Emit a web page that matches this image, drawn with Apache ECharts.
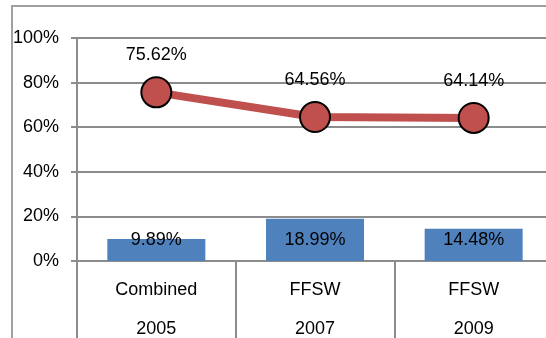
<!DOCTYPE html>
<html>
<head>
<meta charset="utf-8">
<script src="https://cdn.jsdelivr.net/npm/echarts@6/dist/echarts.min.js"></script>
<style>
  html, body { margin: 0; padding: 0; background: #fff; overflow: hidden; }
  #chart { width: 546px; height: 338px; }
</style>
</head>
<body>
<div id="chart"></div>
<script>
// Survey groups and years
const groups = ['Combined', 'FFSW', 'FFSW'];
const years = ['2005', '2007', '2009'];
// Percentages per survey
const barValues = [9.89, 18.99, 14.48];
const lineValues = [75.62, 64.56, 64.14];
const yTicks = [0, 20, 40, 60, 80, 100];

const FONT = '"Liberation Sans", Arial, sans-serif';
const FONT_SIZE = 18;
const GRID_GRAY = '#8c8c8c';

const categories = groups.map((g, i) => g + '\n' + years[i]);

const chart = echarts.init(document.getElementById('chart'), null, { renderer: 'canvas' });
chart.setOption({
  animation: false,
  backgroundColor: '#ffffff',
  // the last category runs a little past the right edge
  grid: { left: 77, right: -7, top: 38, bottom: 77, outerBoundsMode: 'none', containLabel: false },
  graphic: [{
    type: 'rect',
    shape: { x: 12, y: 6, width: 600, height: 400 },
    style: { fill: 'none', stroke: '#a0a0a0', lineWidth: 2 },
    silent: true
  }],
  xAxis: {
    type: 'category',
    data: categories,
    boundaryGap: true,
    axisLine: { show: true, lineStyle: { color: GRID_GRAY, width: 2 } },
    axisTick: { show: true, length: 80, lineStyle: { color: GRID_GRAY, width: 2 } },
    axisLabel: {
      color: '#000',
      fontFamily: FONT,
      fontSize: FONT_SIZE,
      lineHeight: 39,
      margin: 10
    }
  },
  yAxis: {
    type: 'value',
    min: yTicks[0],
    max: yTicks[yTicks.length - 1],
    interval: 20,
    axisLine: { show: true, lineStyle: { color: GRID_GRAY, width: 2 } },
    axisTick: { show: true, length: 6, lineStyle: { color: GRID_GRAY, width: 2 } },
    splitLine: { show: true, lineStyle: { color: GRID_GRAY, width: 2 } },
    axisLabel: {
      color: '#000',
      fontFamily: FONT,
      fontSize: FONT_SIZE,
      margin: 18,
      formatter: '{value}%'
    }
  },
  series: [
    {
      type: 'bar',
      data: barValues,
      barWidth: 98,
      itemStyle: { color: '#4f81bd' },
      label: {
        show: true,
        position: 'insideBottom',
        distance: 12,
        color: '#000',
        fontFamily: FONT,
        fontSize: FONT_SIZE,
        formatter: p => p.value.toFixed(2) + '%'
      },
      z: 2
    },
    {
      type: 'line',
      data: lineValues,
      symbol: 'circle',
      symbolSize: 30,
      lineStyle: { color: '#c0504d', width: 8 },
      itemStyle: { color: '#c0504d', borderColor: '#000', borderWidth: 2 },
      label: {
        show: true,
        position: 'top',
        distance: 12,
        color: '#000',
        fontFamily: FONT,
        fontSize: FONT_SIZE,
        formatter: p => p.value.toFixed(2) + '%'
      },
      z: 3
    }
  ]
});
</script>
</body>
</html>
